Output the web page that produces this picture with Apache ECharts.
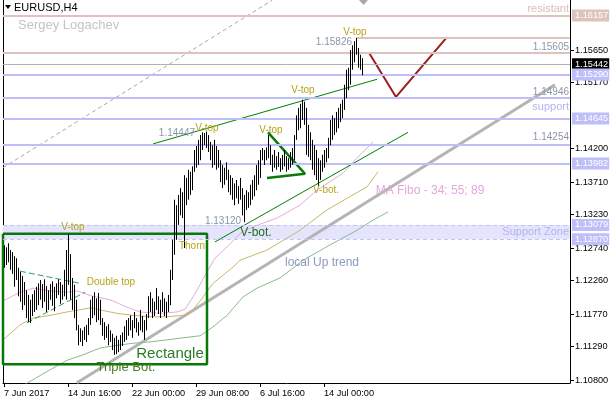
<!DOCTYPE html>
<html><head><meta charset="utf-8">
<script src="https://cdn.jsdelivr.net/npm/echarts@6/dist/echarts.min.js"></script>
<style>html,body{margin:0;padding:0;background:#fff}#c{width:610px;height:400px}</style>
</head><body><div id="c"></div>
<script>
// ---------- DATA ----------
// H4 bars, index = bar number from the left edge
const highs = [
1.1278,1.1275,1.1281,1.1271,1.1268,1.1262,1.1259,1.1245,1.1239,1.1233,
1.1224,1.1212,1.1205,1.1198,1.1206,1.1212,1.1217,1.1222,1.1227,1.1221,
1.1228,1.1218,1.1212,1.1221,1.1225,1.1217,1.1222,1.1228,1.1224,1.1220,
1.1242,1.1271,1.1295,1.1265,1.1230,1.1220,1.1198,1.1161,1.1156,1.1153,
1.1158,1.1161,1.1171,1.1198,1.1203,1.1209,1.1200,1.1208,1.1198,1.1171,
1.1165,1.1159,1.1162,1.1153,1.1148,1.1142,1.1145,1.1139,1.1146,1.1150,
1.1159,1.1168,1.1171,1.1175,1.1168,1.1180,1.1171,1.1165,1.1183,1.1174,
1.1168,1.1177,1.1203,1.1209,1.1200,1.1195,1.1215,1.1203,1.1198,1.1209,
1.1200,1.1195,1.1205,1.1242,1.1286,1.1345,1.1337,1.1352,1.1362,1.1356,
1.1381,1.1377,1.1389,1.1386,1.1394,1.1418,1.1424,1.1433,1.1440,1.1444,
1.1443,1.1445,1.1440,1.1430,1.1425,1.1433,1.1424,1.1418,1.1403,1.1396,
1.1392,1.1400,1.1389,1.1381,1.1377,1.1369,1.1374,1.1365,1.1377,1.1362,
1.1352,1.1359,1.1356,1.1367,1.1374,1.1381,1.1396,1.1403,1.1418,1.1421,
1.1418,1.1422,1.1440,1.1425,1.1411,1.1418,1.1409,1.1415,1.1406,1.1411,
1.1418,1.1409,1.1406,1.1415,1.1421,1.1440,1.1469,1.1480,1.1486,1.1492,
1.1489,1.1480,1.1455,1.1444,1.1433,1.1425,1.1418,1.1406,1.1403,1.1411,
1.1418,1.1421,1.1436,1.1462,1.1469,1.1465,1.1474,1.1480,1.1486,1.1492,
1.1514,1.1536,1.1539,1.1565,1.1572,1.1578,1.1583,1.1568,1.1558,1.1553];
const lows = [
1.1245,1.1249,1.1253,1.1242,1.1236,1.1217,1.1227,1.1203,1.1195,1.1183,
1.1190,1.1171,1.1165,1.1164,1.1174,1.1180,1.1183,1.1190,1.1198,1.1186,
1.1195,1.1180,1.1183,1.1198,1.1189,1.1181,1.1200,1.1205,1.1192,1.1198,
1.1203,1.1198,1.1220,1.1198,1.1183,1.1171,1.1153,1.1131,1.1136,1.1130,
1.1139,1.1136,1.1146,1.1161,1.1171,1.1175,1.1165,1.1168,1.1161,1.1145,
1.1139,1.1142,1.1131,1.1136,1.1124,1.1117,1.1118,1.1121,1.1124,1.1130,
1.1136,1.1139,1.1145,1.1153,1.1142,1.1156,1.1150,1.1145,1.1153,1.1150,
1.1139,1.1153,1.1171,1.1180,1.1171,1.1174,1.1183,1.1177,1.1171,1.1180,
1.1174,1.1171,1.1180,1.1190,1.1227,1.1264,1.1286,1.1308,1.1322,1.1318,
1.1274,1.1337,1.1345,1.1352,1.1359,1.1386,1.1392,1.1396,1.1403,1.1418,
1.1425,1.1421,1.1415,1.1403,1.1392,1.1396,1.1389,1.1392,1.1371,1.1362,
1.1367,1.1374,1.1356,1.1352,1.1345,1.1337,1.1347,1.1339,1.1345,1.1322,
1.1312,1.1330,1.1333,1.1337,1.1345,1.1350,1.1359,1.1367,1.1377,1.1403,
1.1396,1.1403,1.1406,1.1396,1.1386,1.1392,1.1389,1.1393,1.1386,1.1389,
1.1394,1.1386,1.1389,1.1392,1.1396,1.1403,1.1433,1.1447,1.1450,1.1462,
1.1455,1.1411,1.1408,1.1403,1.1389,1.1381,1.1374,1.1365,1.1374,1.1386,
1.1392,1.1400,1.1406,1.1425,1.1433,1.1440,1.1444,1.1450,1.1459,1.1465,
1.1477,1.1494,1.1506,1.1514,1.1536,1.1547,1.1558,1.1539,1.1536,1.1528];

// Moving averages (MA Fibo 34 / 55 / 89), [bar, price]
const ma34 = [[-0.5,1.1196],[8,1.1209],[14.5,1.1215],[23,1.1211],[31.5,1.1209],[36.5,1.1211],[44.5,1.1203],[53,1.1198],[61.5,1.1187],[68,1.1180],[78,1.1178],[86.5,1.1180],[90.5,1.1184],[94.5,1.1202],[98,1.1220],[101.5,1.1239],[105.5,1.1259],[113,1.1280],[119.5,1.1299],[128,1.1309],[136.5,1.1318],[148,1.1337],[156.5,1.1359],[169.5,1.1384],[178,1.1411],[184.5,1.1430]];
const ma55 = [[-0.5,1.1139],[8,1.1161],[14.5,1.1171],[23,1.1175],[31.5,1.1180],[39.5,1.1184],[43,1.1186],[48,1.1183],[56.5,1.1178],[64.5,1.1175],[73,1.1173],[81.5,1.1173],[89.5,1.1175],[93,1.1178],[98,1.1196],[104.5,1.1222],[114.5,1.1246],[118,1.1256],[131.5,1.1271],[148,1.1300],[161.5,1.1330],[171.5,1.1347],[181.5,1.1364],[187,1.1386]];
const ma89 = [[5.5,1.1065],[23,1.1095],[31.5,1.1109],[39.5,1.1117],[48,1.1127],[56.5,1.1131],[64.5,1.1134],[73,1.1136],[81.5,1.1139],[89.5,1.1142],[98,1.1145],[104.5,1.1158],[111.5,1.1175],[119.5,1.1202],[126.5,1.1215],[138,1.1230],[146.5,1.1249],[149.5,1.1256],[164.5,1.1281],[176.5,1.1300],[184.5,1.1315],[192,1.1327]];

// Drawn objects, [bar, price]
const rectangle = [[-0.5,1.1295],[101.5,1.1295],[101.5,1.1103],[-0.5,1.1103],[-0.5,1.1295]];
const triangle = [[132,1.1444],[150.5,1.1383],[131.5,1.1377]];
const channelTop = [[74.5,1.1427],[186.5,1.1522]];
const channelBottom = [[105.5,1.1283],[202,1.1444]];
const localUpTrend = [[36.5,1.1076],[275.5,1.1514]];
const dashedTrend = [[-0.5,1.1392],[134,1.1638]];
const doubleTopUpper = [[8,1.1240],[38,1.1222]];
const doubleTopLower = [[11.5,1.1164],[40.5,1.1209]];
const forecast = [[182.5,1.1561],[196,1.1496],[221.5,1.1584]];

// Horizontal levels
const resistLevels = [1.16157, 1.15605];
const vTopLevel = 1.15826;
const currentPrice = 1.15442;
const supportLevels = [1.15290, 1.14946, 1.14645, 1.14254, 1.13982];
const supportZone = [1.12870, 1.13079];
const labelledLevels = [1.16157, 1.15290, 1.14645, 1.13982, 1.13079, 1.12870];

// Axes
const yMin = 1.10756, yMax = 1.16385, xMax = 283;
const yTicks = [1.1565, 1.1517, 1.1420, 1.1371, 1.1323, 1.1274, 1.1226, 1.1177, 1.1129, 1.1080];
const xTickBars = [0, 32, 64, 96, 128, 160];
const xTickLabels = ['7 Jun 2017', '14 Jun 16:00', '22 Jun 00:00', '29 Jun 08:00', '6 Jul 16:00', '14 Jul 00:00'];

// Text notes: [bar, price, text]
const notes = [
  [175.5, 1.1591, 'V-top'],
  [174, 1.1577, '1.15826'],
  [149.5, 1.1506, 'V-top'],
  [101.5, 1.1450, 'V-top'],
  [95.5, 1.1443, '1.14447'],
  [133.5, 1.1447, 'V-top'],
  [34.5, 1.1305, 'V-top'],
  [126, 1.1297, 'V-bot.'],
  [109.5, 1.1314, '1.13120'],
  [161, 1.1359, 'V-bot.'],
  [94, 1.1277, 'Thorn'],
  [53.5, 1.1224, 'Double top'],
  [213, 1.1358, 'MA Fibo - 34; 55; 89'],
  [159, 1.1253, 'local Up trend'],
  [83, 1.1118, 'Rectangle'],
  [61, 1.1099, 'Triple Bot.'],
  [282.5, 1.1625, 'resistant'],
  [282.5, 1.1569, '1.15605'],
  [282.5, 1.1503, '1.14946'],
  [282.5, 1.1481, 'support'],
  [282.5, 1.1437, '1.14254'],
  [282.5, 1.1297, 'Support Zone']
];

// ---------- STYLES ----------
const FONT = '"Liberation Sans", Arial, sans-serif';
const AXFS = 9.2;
const GOLD = '#b8a41c', GREYTXT = '#8c96aa', BLUE = '#bebef8', ROSE = '#dcc4bc';
const noteStyle = [
  ['c', GOLD, 10], ['r', GREYTXT, 10], ['c', GOLD, 10], ['c', GOLD, 10], ['r', GREYTXT, 10],
  ['c', GOLD, 10], ['c', GOLD, 10], ['c', '#1e6e1e', 12], ['c', GREYTXT, 10], ['c', GOLD, 10],
  ['c', GOLD, 10], ['c', GOLD, 10], ['c', '#e6a6de', 12], ['c', '#8a9ac0', 12], ['c', '#2a7a2a', 15],
  ['c', '#4a7a20', 13], ['r', '#d8bcb2', 11], ['r', GREYTXT, 10], ['r', GREYTXT, 10], ['r', '#b4b4f0', 11],
  ['r', GREYTXT, 10], ['r', '#b4b4f0', 11]
];

function lineSeries(data, color, width, type, z) {
  return {type:'line', data:data, showSymbol:false, symbol:'none', silent:true, z:z||3, clip:true,
    lineStyle:{color:color, width:width, type:type||'solid'}};
}
function lvlLabel(v, bg) {
  return {show:true, position:'end', distance:2, formatter:function(){return v.toFixed(5);},
    backgroundColor:bg, color:'#fff', padding:[2,1,1,3], fontSize:AXFS, fontFamily:FONT};
}

const markData = [];
resistLevels.forEach(function(v){
  markData.push({yAxis:v, lineStyle:{color:ROSE, width:2, type:'solid'},
    label: labelledLevels.indexOf(v) >= 0 ? lvlLabel(v, ROSE) : {show:false}});
});
markData.push([{coord:[176.5, vTopLevel], lineStyle:{color:ROSE, width:2, type:'solid'}, label:{show:false}}, {coord:[xMax, vTopLevel]}]);
markData.push({yAxis:currentPrice, lineStyle:{color:'#b0b0b0', width:1, type:'solid'}, label:lvlLabel(currentPrice, '#000')});
supportLevels.forEach(function(v){
  markData.push({yAxis:v, lineStyle:{color:BLUE, width:2, type:'solid'},
    label: labelledLevels.indexOf(v) >= 0 ? lvlLabel(v, BLUE) : {show:false}});
});
supportZone.forEach(function(v){
  markData.push({yAxis:v, lineStyle:{color:'#c4c4f0', width:1, type:[4,3]}, label:lvlLabel(v, BLUE)});
});

const bars = highs.map(function(h, i){ return [i, h, lows[i]]; });

const chart = echarts.init(document.getElementById('c'), null, {renderer:'canvas'});
chart.setOption({
  animation:false,
  backgroundColor:'#fff',
  grid:{left:3, right:40, top:0, bottom:17, outerBoundsMode:'none', containLabel:false},
  xAxis:{type:'value', min:-0.5, max:xMax,
    axisLine:{show:true, onZero:false, lineStyle:{color:'#000', width:1}},
    splitLine:{show:false},
    axisTick:{show:true, customValues:xTickBars, length:4, lineStyle:{color:'#000'}},
    axisLabel:{customValues:xTickBars, formatter:function(v){ return xTickLabels[xTickBars.indexOf(v)]; },
      align:'left', color:'#000', fontSize:AXFS, fontFamily:FONT, margin:6}},
  yAxis:[
    {type:'value', position:'right', min:yMin, max:yMax,
      axisLine:{show:true, onZero:false, lineStyle:{color:'#000', width:1}},
      splitLine:{show:false},
      axisTick:{show:true, customValues:yTicks, length:4, lineStyle:{color:'#000'}},
      axisLabel:{customValues:yTicks, formatter:function(v){ return v.toFixed(5); }, color:'#000', fontSize:AXFS, fontFamily:FONT, margin:5}},
    {type:'value', position:'left', min:yMin, max:yMax,
      axisLine:{show:true, onZero:false, lineStyle:{color:'#000', width:1}},
      axisTick:{show:false}, axisLabel:{show:false}, splitLine:{show:false}}
  ],
  graphic:[
    {type:'polygon', shape:{points:[[5,5],[11,5],[8,9]]}, style:{fill:'#000'}},
    {type:'text', left:14, top:2, style:{text:'EURUSD,H4', fill:'#000', font:'11px ' + FONT}},
    {type:'text', left:18, top:19, style:{text:'Sergey Logachev', fill:'#c4c4c4', font:'13px ' + FONT}},
    {type:'polygon', shape:{points:[[359,0],[368,0],[363.5,5]]}, style:{fill:'#a8a8a8'}}
  ],
  series:[
    {type:'line', data:[], silent:true, z:1,
      markLine:{silent:true, precision:6, symbol:['none','none'], animation:false, data:markData},
      markArea:{silent:true, precision:6, itemStyle:{color:'#e4e4fc'}, data:[[{yAxis:supportZone[0]},{yAxis:supportZone[1]}]]}},
    lineSeries(dashedTrend, '#a8a8a8', 1, [4,3], 2),
    lineSeries(localUpTrend, '#b4b4b4', 3, 'solid', 2),
    lineSeries(ma89, '#88bc88', 1),
    lineSeries(ma55, '#c8b868', 1),
    lineSeries(ma34, '#e8a8e0', 1),
    lineSeries(rectangle, '#087808', 2.5, 'solid', 4),
    lineSeries(channelTop, '#008000', 1, 'solid', 4),
    lineSeries(channelBottom, '#008000', 1, 'solid', 4),
    lineSeries(triangle, '#0a7a0a', 2.5, 'solid', 4),
    lineSeries(doubleTopUpper, '#30a060', 1, [6,3], 4),
    lineSeries(doubleTopLower, '#30a060', 1, [6,3], 4),
    lineSeries(forecast, '#a01c1c', 2, 'solid', 4),
    {type:'custom', z:5, silent:true, clip:true, data:bars, encode:{x:0, y:[1,2]},
      renderItem:function(params, api){
        var x = api.value(0);
        var p1 = api.coord([x, api.value(1)]);
        var p2 = api.coord([x, api.value(2)]);
        var px = Math.round(p1[0]) + 0.5;
        return {type:'line', shape:{x1:px, y1:p1[1], x2:px, y2:p2[1]}, style:{stroke:'#000', lineWidth:1}};
      }},
    {type:'custom', z:6, silent:true, clip:false, data:notes.map(function(n){ return [n[0], n[1]]; }), encode:{x:0, y:1},
      renderItem:function(params, api){
        var n = notes[params.dataIndex], st = noteStyle[params.dataIndex];
        var p = api.coord([n[0], n[1]]);
        var al = st[0] === 'r' ? 'right' : 'center';
        return {type:'text', x:p[0], y:p[1], style:{text:n[2], fill:st[1], font:st[2] + 'px ' + FONT,
          align:al, verticalAlign:'middle', textAlign:al, textVerticalAlign:'middle'}};
      }}
  ]
});
</script>
</body></html>
